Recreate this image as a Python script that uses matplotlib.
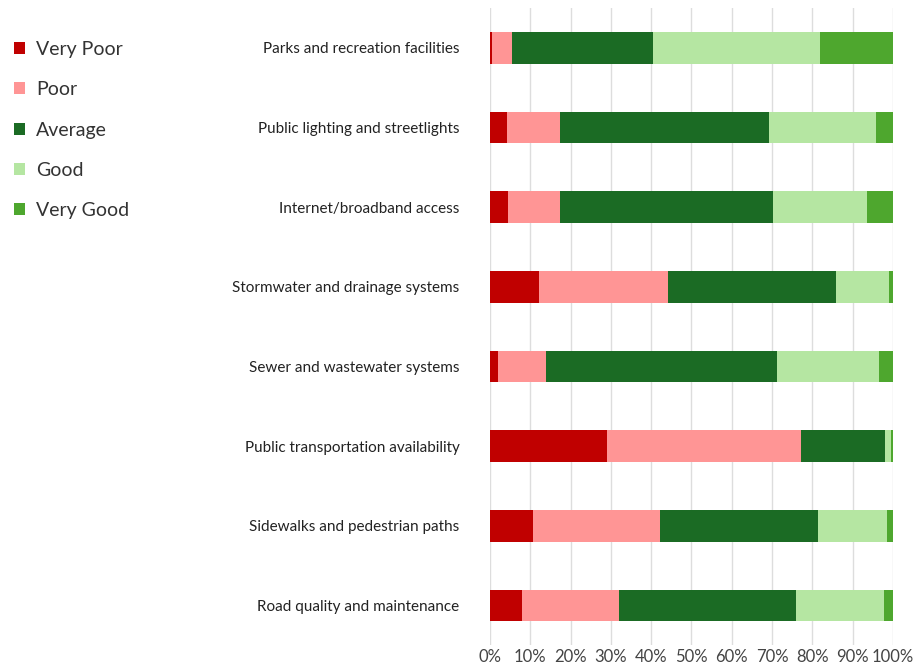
import matplotlib
matplotlib.use("Agg")
from matplotlib import pyplot as plt
from matplotlib.patches import Patch
from matplotlib.ticker import PercentFormatter

categories = [
    "Parks and recreation facilities",
    "Public lighting and streetlights",
    "Internet/broadband access",
    "Stormwater and drainage systems",
    "Sewer and wastewater systems",
    "Public transportation availability",
    "Sidewalks and pedestrian paths",
    "Road quality and maintenance",
]

very_poor = [0.5, 4.2, 4.5, 12.2, 2.0, 29.1, 10.7, 7.9]
poor = [5.0, 13.2, 12.9, 32.0, 11.9, 48.1, 31.5, 24.1]
average = [35.0, 51.9, 52.9, 41.7, 57.4, 20.9, 39.2, 44.0]
good = [41.5, 26.6, 23.3, 13.2, 25.3, 1.5, 17.2, 21.8]
very_good = [18.0, 4.1, 6.4, 0.9, 3.4, 0.4, 1.4, 2.2]

series = [
    ("Very Poor", very_poor, "#c00000"),
    ("Poor", poor, "#ff9595"),
    ("Average", average, "#1b6b24"),
    ("Good", good, "#b5e6a2"),
    ("Very Good", very_good, "#4ea72e"),
]

plt.rcParams['font.family'] = ['Lato', 'DejaVu Sans']

fig = plt.figure(figsize=(9.21, 6.68), dpi=100)
ax = fig.add_axes([0.532, 0.034, 0.4375, 0.954])

ypos = list(range(len(categories)))
left = [0.0] * len(categories)
for name, vals, color in series:
    ax.barh(ypos, vals, left=left, height=0.4, color=color, label=name, zorder=3)
    left = [a + b for a, b in zip(left, vals)]

ax.set_xlim(0, 100)
ax.set_ylim(7.5, -0.5)
ax.set_xticks(range(0, 101, 10))
ax.xaxis.set_major_formatter(PercentFormatter(decimals=0))
ax.set_yticks(ypos)
ax.set_yticklabels(categories, fontsize=11, color="#222222")
ax.tick_params(axis="y", length=0, pad=22)
ax.tick_params(axis="x", length=0, labelsize=12, labelcolor="#444444", pad=3)
ax.grid(axis="x", color="#dddddd", linewidth=1, zorder=0)
for s in ax.spines.values():
    s.set_visible(False)

handles = [Patch(facecolor=c, label=n) for n, _, c in series]
fig.legend(handles=handles, loc="upper left", bbox_to_anchor=(-0.004, 0.965),
           frameon=False, fontsize=14, labelcolor="#333333",
           handlelength=0.55, handleheight=0.55, handletextpad=0.6,
           labelspacing=1.2)

plt.savefig("out.png", dpi=100)
